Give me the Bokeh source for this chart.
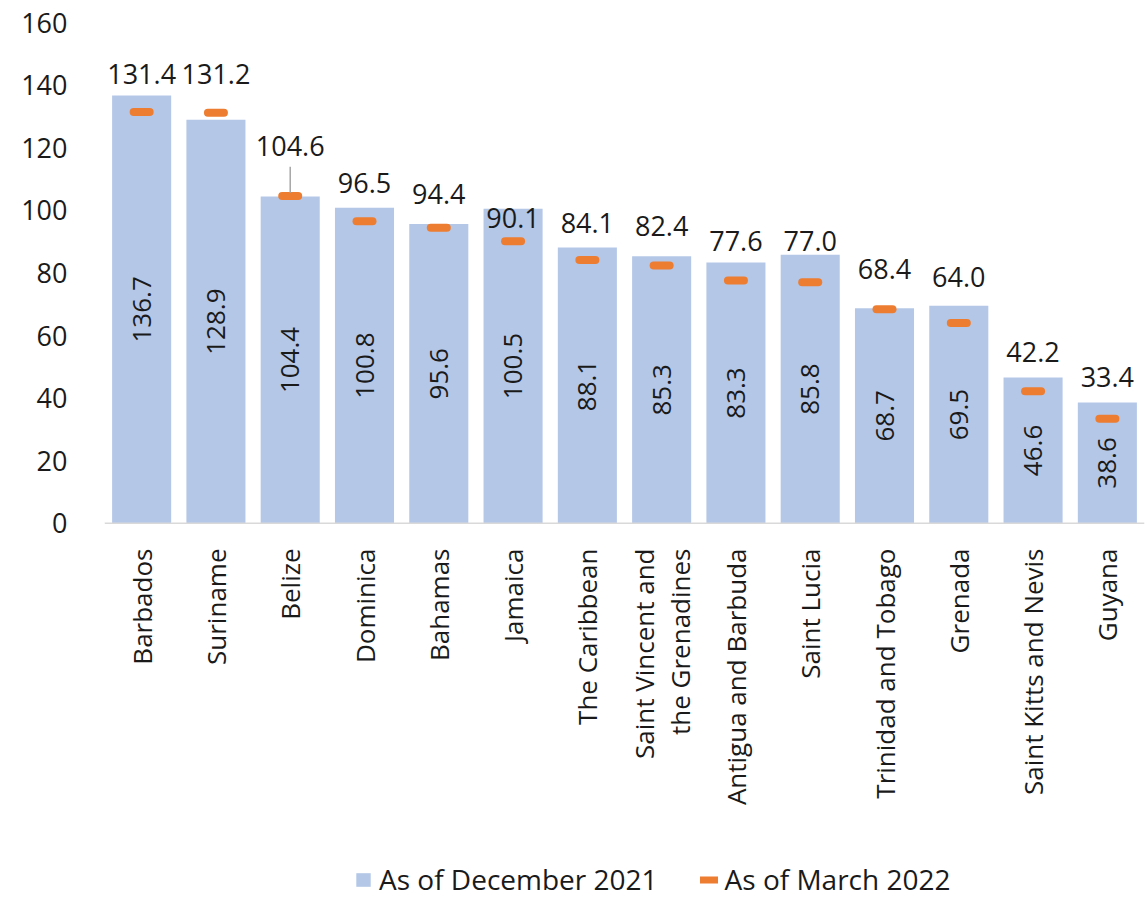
import math
from bokeh.plotting import figure
from bokeh.layouts import column
from bokeh.models import (ColumnDataSource, FactorRange, Range1d, Legend, LegendItem,
                          SingleIntervalTicker, Span)
from bokeh.core.properties import value
from bokeh.embed import file_html
from bokeh.resources import INLINE

# ---------------- data ----------------
countries = ["Barbados", "Suriname", "Belize", "Dominica", "Bahamas", "Jamaica",
             "The Caribbean", "Saint Vincent and\nthe Grenadines", "Antigua and Barbuda",
             "Saint Lucia", "Trinidad and Tobago", "Grenada", "Saint Kitts and Nevis", "Guyana"]
dec_2021 = [136.7, 128.9, 104.4, 100.8, 95.6, 100.5, 88.1, 85.3, 83.3, 85.8, 68.7, 69.5, 46.6, 38.6]
mar_2022 = [131.4, 131.2, 104.6, 96.5, 94.4, 90.1, 84.1, 82.4, 77.6, 77.0, 68.4, 64.0, 42.2, 33.4]
series_names = ["As of December 2021", "As of March 2022"]

# label placement (style): lift of the March label above its marker, in axis units
label_lift = [12.3, 12.5, 15.8, 12.1, 10.7, 7.3, 12.0, 12.5, 12.5, 13.1, 12.7, 14.6, 12.4, 13.2]

FONT = "Open Sans"
BAR = "#B4C7E7"
ORANGE = "#ED7D31"
TXT = "#1a1a1a"
W = 1147
H_TOP = 541
H_BOT = 357

src = ColumnDataSource(dict(
    x=countries,
    dec=dec_2021,
    mar=mar_2022,
    dec_mid=[v / 2 for v in dec_2021],
    dec_txt=[f"{v:.1f}" for v in dec_2021],
    mar_txt=[f"{v:.1f}" for v in mar_2022],
    mar_lab=[m + l for m, l in zip(mar_2022, label_lift)],
))

xr = FactorRange(*countries)

# ---------------- main chart ----------------
p = figure(x_range=xr, y_range=Range1d(-1, 160),
           width=W, height=H_TOP, output_backend="svg", toolbar_location=None,
           x_axis_location=None,
           min_border_left=104, min_border_right=3, min_border_top=22, min_border_bottom=15)
p.outline_line_color = None
p.xgrid.grid_line_color = None
p.ygrid.grid_line_color = None

bars = p.vbar(x="x", top="dec", width=0.795, source=src, fill_color=BAR, line_color=None)
p.add_layout(Span(location=0, dimension="width", line_color="#D9D9D9", line_width=1.5))
p.scatter(x="x", y="mar", marker="dash", size=16, line_width=8, line_cap="round",
          line_color=ORANGE, source=src)

# in-bar labels (December 2021)
p.text(x="x", y="dec_mid", text="dec_txt", source=src, angle=math.pi / 2,
       text_align="center", text_baseline="middle", text_font=value(FONT),
       text_font_size="26px", text_color=TXT)
# labels above markers (March 2022)
p.text(x="x", y="mar_lab", text="mar_txt", source=src,
       text_align="center", text_baseline="middle", text_font=value(FONT),
       text_font_size="27px", text_color=TXT)
# leader line for Belize
bi = 2
p.segment(x0=[countries[bi]], y0=[mar_2022[bi] + 1.0], x1=[countries[bi]],
          y1=[mar_2022[bi] + label_lift[bi] - 6.5], line_color="#A6A6A6", line_width=1.5)

p.yaxis.ticker = SingleIntervalTicker(interval=20)
p.yaxis.axis_line_color = None
p.yaxis.major_tick_line_color = None
p.yaxis.minor_tick_line_color = None
p.yaxis.major_label_text_font = FONT
p.yaxis.major_label_text_font_size = "27px"
p.yaxis.major_label_text_color = TXT
p.yaxis.major_label_standoff = 31

# ---------------- category labels + legend ----------------
q = figure(x_range=xr, y_range=Range1d(0, H_BOT),
           width=W, height=H_BOT, output_backend="svg", toolbar_location=None,
           x_axis_location=None, y_axis_location=None,
           min_border_left=104, min_border_right=3, min_border_top=0, min_border_bottom=0)
q.outline_line_color = None
q.xgrid.grid_line_color = None
q.ygrid.grid_line_color = None

q.text(x=countries, y=[H_BOT - 7] * len(countries), text=countries, angle=math.pi / 2,
       text_align="right", text_baseline="middle", text_font=value(FONT),
       text_font_size="26px", text_color=TXT, text_line_height=1.0)

leg_bar = q.vbar(x=[countries[0]], top=[-100], bottom=[-200], width=0.5,
                 fill_color=BAR, line_color=None)
leg_line = q.line(x=[countries[0], countries[1]], y=[-100, -100], line_color=ORANGE,
                  line_width=7, line_cap="round")
legend = Legend(items=[LegendItem(label=series_names[0], renderers=[leg_bar]),
                       LegendItem(label=series_names[1], renderers=[leg_line])],
                orientation="horizontal", location=(250, 0),
                label_text_font=FONT, label_text_font_size="28px", label_text_color=TXT,
                glyph_width=18, glyph_height=17, spacing=42, label_standoff=7,
                border_line_color=None, background_fill_alpha=0, padding=0, margin=0)
q.add_layout(legend, "center")

layout = column(p, q, spacing=0)
open("out.html", "w").write(file_html(layout, INLINE))
